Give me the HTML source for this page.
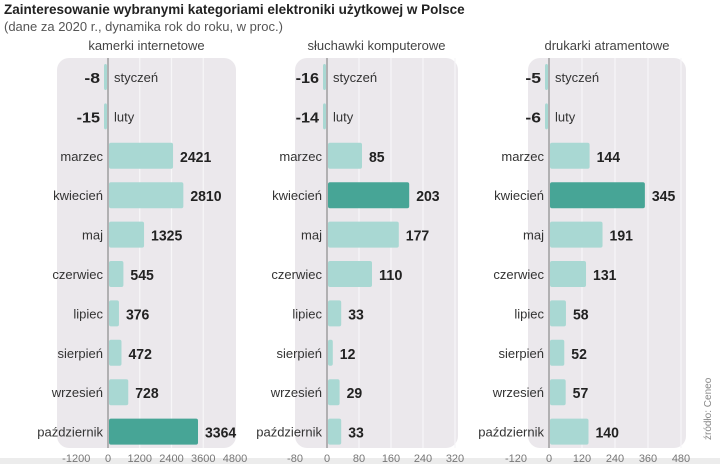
<!DOCTYPE html>
<html><head><meta charset="utf-8"><style>
body{margin:0;background:#fff;}
svg{display:block;font-family:"Liberation Sans",sans-serif;}
.val{font-family:"Liberation Sans",sans-serif;font-weight:bold;font-size:15px;fill:#222;}
.mon{font-size:13px;fill:#333;}
.tick{font-size:11px;fill:#777;}
</style></head><body>
<svg id="c" width="720" height="464">
<rect x="0" y="458" width="720" height="6" fill="#ececec"/>
<text x="4" y="14" font-size="13.5" font-weight="bold" fill="#222">Zainteresowanie wybranymi kategoriami elektroniki użytkowej w Polsce</text>
<text x="4" y="31" font-size="13" fill="#555">(dane za 2020 r., dynamika rok do roku, w proc.)</text>
<text transform="translate(711,440) rotate(-90)" font-size="10" fill="#888">źródło: Ceneo</text>
</svg>
<script>
const months=["styczeń","luty","marzec","kwiecień","maj","czerwiec","lipiec","sierpień","wrzesień","październik"];
const webcams=[-8,-15,2421,2810,1325,545,376,472,728,3364];
const headphones=[-16,-14,85,203,177,110,33,12,29,33];
const printers=[-5,-6,144,345,191,131,58,52,57,140];
const webcamTicks=[-1200,0,1200,2400,3600,4800];
const headphoneTicks=[-80,0,80,160,240,320];
const printerTicks=[-120,0,120,240,360,480];
const titles=["kamerki internetowe","słuchawki komputerowe","drukarki atramentowe"];
const NS="http://www.w3.org/2000/svg";
const svg=document.getElementById('c');
function mk(t,a,p){const e=document.createElementNS(NS,t);for(const k in a)e.setAttribute(k,a[k]);(p||svg).appendChild(e);return e;}
const panels=[
 {vals:webcams,ticks:webcamTicks,zero:108,ppu:89/3364,bx0:57,bx1:236,name:'webcams'},
 {vals:headphones,ticks:headphoneTicks,zero:327,ppu:0.4,bx0:295,bx1:458,name:'headphones'},
 {vals:printers,ticks:printerTicks,zero:549,ppu:33/120,bx0:528,bx1:686,name:'printers'}];
const rowY=i=>77+i*39.4;
panels.forEach((p,pi)=>{
 const x=v=>p.zero+v*p.ppu;
 const g=mk('g',{});
 
 
 const bg=mk('rect',{x:p.bx0,y:58,width:p.bx1-p.bx0,height:390,rx:12,fill:'#ebe8ec'},g);
 
 
 const tt=mk('text',{x:(p.bx0+p.bx1)/2,y:50,'text-anchor':'middle','font-size':13,fill:'#444'},g);
 tt.textContent=titles[pi];
 
 
 p.ticks.forEach(t=>{
  if(t>0&&x(t)<p.bx1-2){const gl=mk('line',{x1:x(t),x2:x(t),y1:58,y2:448,stroke:'#f7f6f8','stroke-width':1.2},g);
   
   }
  const tl=mk('text',{x:x(t),y:462,'text-anchor':'middle',class:'tick'},g);
  tl.textContent=t;
  
  
 });
 const zl=mk('line',{x1:p.zero,x2:p.zero,y1:58,y2:448,stroke:'#777','stroke-width':1},g);
 
 
 const mx=Math.max(...p.vals);
 p.vals.forEach((v,i)=>{
  const cy=rowY(i);
  const hl=v===mx;
  const w=v>=0?Math.max(x(v)-x(0),3):3;
  const b=mk('rect',{x:v>=0?x(0)+1:x(0)-4,y:cy-13,width:w,height:26,rx:2,fill:hl?'#47a596':'#a9d8d3'},g);
  
  
  const s=String(v);
  const vl=mk('text',{y:cy+6,class:'val',textLength:s.length*7.8,lengthAdjust:'spacingAndGlyphs'},g);
  const ml=mk('text',{y:cy+5,class:'mon'},g);
  if(v>=0){vl.setAttribute('x',x(v)+8);ml.setAttribute('x',p.zero-5);ml.setAttribute('text-anchor','end');}
  else{vl.setAttribute('x',p.zero-8-s.length*7.8);ml.setAttribute('x',p.zero+6);}
  vl.textContent=s;ml.textContent=months[i];
  
  
  
  
 });
});
</script>
</body></html>
